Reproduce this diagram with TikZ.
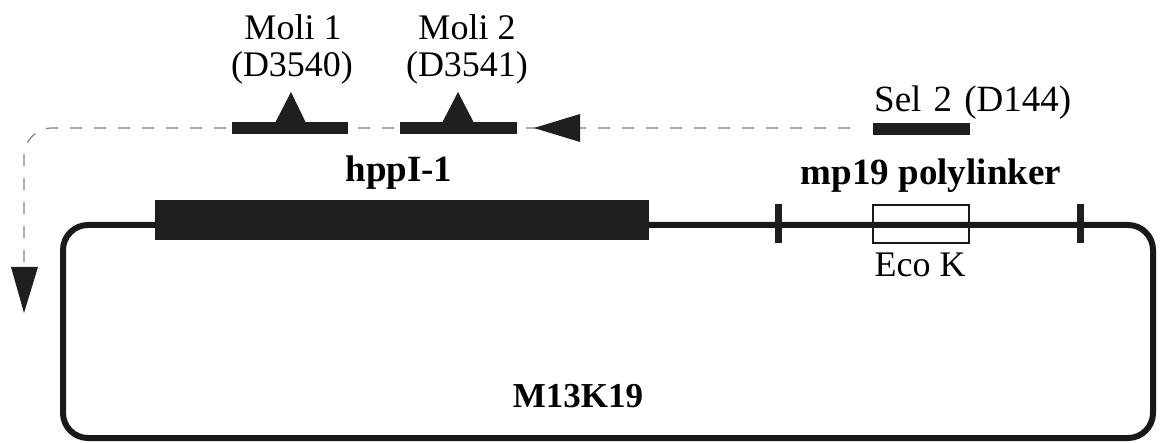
\documentclass[tikz,border=0pt]{standalone}
\usepackage{fontspec}
\setmainfont{Liberation Serif}
\begin{document}
\begin{tikzpicture}[x=1pt,y=-1pt,
  lbl/.style={font=\fontsize{36}{40}\selectfont, inner sep=0pt, anchor=base},
  blbl/.style={lbl, font=\fontsize{37}{40}\selectfont\bfseries},
  darkfill/.style={fill=black!88, draw=none},
  loopline/.style={line width=6pt, black!90},
  tick/.style={line width=7pt, black!88},
  dashline/.style={line width=1.2pt, black!50, dash pattern=on 12pt off 12pt}]
\useasboundingbox (0,0) rectangle (1166,443);
% dashed path with arrowheads
\coordinate (dstart) at (850,128);
\coordinate (hturn) at (24,128);
\coordinate (vend) at (24,268);
\draw[dashline, rounded corners=28pt] (dstart) -- (hturn) -- (vend);
\fill[black!88] (580,114) -- (580,142) -- (534,128) -- cycle;
\fill[black!88] (11,267) -- (38,267) -- (24,313) -- cycle;
% probe bars
\fill[darkfill] (232,122) rectangle (348,134);
\fill[darkfill] (275,123) -- (306,123) -- (291,92) -- cycle;
\fill[darkfill] (400,122) rectangle (517,134);
\fill[darkfill] (442,123) -- (474,123) -- (458,92) -- cycle;
\fill[darkfill] (873,123) rectangle (970,135);
% main plasmid loop
\draw[loopline, rounded corners=25pt] (63,225) rectangle (1153,438);
\fill[darkfill] (155,200) rectangle (649,240);
\draw[tick] (778,204) -- (778,243);
\draw[tick] (1080,204) -- (1080,243);
\draw[line width=2.5pt, black!90] (873,205) rectangle (969,243);
% labels
\node[lbl] (m1) at (293,40) {Moli 1};
\node[lbl] (m1d) at (292,77) {(D3540)};
\node[lbl] (m2) at (467,40) {Moli 2};
\node[lbl] (m2d) at (467,77) {(D3541)};
\node[lbl, anchor=base west, font=\fontsize{37}{40}\selectfont] (sel) at (874,112) {Sel\hspace{0.33em}2\hspace{0.33em}(D144)};
\node[blbl] (hpp) at (399,182) {hppI-1};
\node[blbl] (mp) at (931,185) {mp19 polylinker};
\node[lbl] (eco) at (920,277) {Eco K};
\node[blbl, font=\fontsize{35}{40}\selectfont\bfseries] (m13) at (578,407) {M13K19};
\end{tikzpicture}
\end{document}
